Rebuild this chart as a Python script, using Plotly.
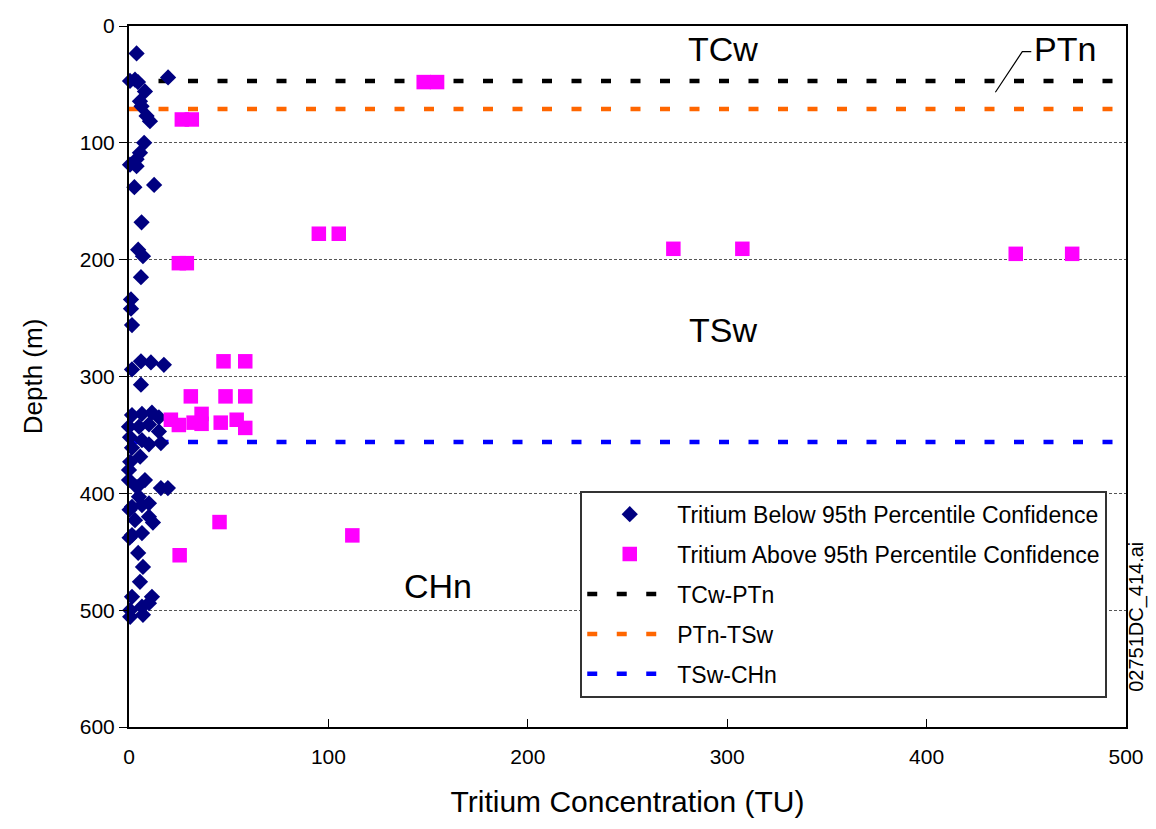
import plotly.graph_objects as go

# Tritium samples below the 95th percentile confidence level (TU, depth m)
below_tu = [3.8, 0.5, 3.0, 4.5, 19.6, 8.0, 5.5, 6.3, 8.8, 10.5,
            7.6, 5.5, 3.8, 0.5, 3.8, 2.7, 12.6, 6.3, 4.6, 7.0,
            6.0, 1.0, 1.0, 1.5, 6.0, 11.0, 17.5, 1.5, 6.0,
            1.5, 6.5, 11.5, 15.0, 0.0, 5.0, 10.0, 15.0, 0.5,
            6.5, 16.0, 1.5, 10.0, 0.6, 5.6, 0.0, 0.0, 8.0,
            16.0, 19.5, 4.0, 5.0, 1.5, 6.5, 10.0, 0.3, 3.0,
            10.0, 12.0, 1.5, 6.5, 0.3, 4.6, 7.0, 5.5, 1.5, 11.5,
            0.6, 6.5, 10.0, 0.6, 7.0]
below_depth = [23.5, 47, 46, 48, 44, 56, 64.5, 68.7, 77, 81.5,
               100, 108.5, 114, 118.7, 120, 138, 136, 168, 191.5, 197,
               215, 234, 242, 256, 287, 288, 290, 294, 307,
               333, 332, 331, 335, 343, 343, 341, 347, 352,
               354.5, 357, 361, 358, 373, 368.6, 380, 388.6, 388.6,
               395.5, 395.5, 394.6, 403, 411.5, 410, 408.5, 414, 423,
               420, 425, 435.7, 434, 438, 451, 463, 475.7, 488.6, 488.6,
               500, 497, 494, 505.7, 504]

# Tritium samples above the 95th percentile confidence level (TU, depth m)
above_tu = [26.5, 31.5, 147.8, 154.5, 95.2, 105.2, 273.0, 307.6, 444.7, 473.0,
            25.0, 29.0, 47.4, 58.3, 31.0, 48.4, 58.3,
            21.0, 25.0, 32.4, 36.4, 36.4, 46.0, 54.0, 58.3,
            45.4, 112.0, 25.4]
above_depth = [80, 80, 48, 48, 177.8, 177.8, 190.7, 190.7, 195, 195,
               203, 203, 287, 287, 317, 317, 317,
               337, 341.5, 339.5, 332, 340.5, 339.5, 337, 344,
               424.6, 436, 453]

# Unit contact depths (m)
contact_names = ["TCw-PTn", "PTn-TSw", "TSw-CHn"]
contact_depths = [47, 71, 356]
contact_colors = ["#000000", "#FF6600", "#0000FF"]
x_span = [0, 500]

# Hydrogeologic unit labels (TU, depth m)
unit_names = ["TCw", "TSw", "CHn", "PTn"]
unit_tu = [298, 298, 155, 469.6]
unit_depth = [20, 260, 479, 20]

FONT = "Liberation Sans, Arial, sans-serif"

fig = go.Figure()

# contact lines first so the sample markers sit on top of them
for i, (nm, d, c) in enumerate(zip(contact_names, contact_depths, contact_colors)):
    fig.add_trace(go.Scatter(
        x=x_span, y=[d, d], mode="lines", name=nm,
        legendgroup=f"c{i}", legendrank=3 + i,
        line=dict(color=c, width=4.5, dash="10px,19.5px"),
    ))

fig.add_trace(go.Scatter(
    x=below_tu, y=below_depth, mode="markers",
    name="Tritium Below 95th Percentile Confidence",
    legendgroup="g1", legendrank=1,
    marker=dict(symbol="diamond", size=12.5, color="#000080", line=dict(width=0)),
    cliponaxis=False,
))
fig.add_trace(go.Scatter(
    x=above_tu, y=above_depth, mode="markers",
    name="Tritium Above 95th Percentile Confidence",
    legendgroup="g2", legendrank=2,
    marker=dict(symbol="square", size=14.5, color="#FF00FF", line=dict(width=0)),
    cliponaxis=False,
))

for nm, x, y in zip(unit_names, unit_tu, unit_depth):
    fig.add_annotation(x=x, y=y, text=nm, showarrow=False,
                       font=dict(family=FONT, size=34, color="black"))

# leader from the PTn label down to its thin interval
fig.add_shape(type="path", path="M 452.5 22 L 448 22 L 434.5 56.7",
              line=dict(color="black", width=1.2), xref="x", yref="y")

fig.add_annotation(x=1.0109, y=0.157, xref="paper", yref="paper",
                   xanchor="center", yanchor="middle",
                   text="02751DC_414.ai", textangle=-90, showarrow=False,
                   font=dict(family=FONT, size=20, color="black"))

fig.update_layout(
    width=1156, height=829,
    margin=dict(l=129, r=24, t=26, b=102),
    paper_bgcolor="white", plot_bgcolor="white",
    font=dict(family=FONT, color="black"),
    legend=dict(
        x=0.4526, y=0.337, xanchor="left", yanchor="top",
        bgcolor="white", bordercolor="#333333", borderwidth=2,
        font=dict(family=FONT, size=23, color="black"),
        traceorder="grouped", tracegroupgap=7,
        itemwidth=85,
    ),
    showlegend=True,
)

fig.update_xaxes(
    range=[0, 500], tickvals=[0, 100, 200, 300, 400, 500],
    showgrid=False, zeroline=False,
    showline=True, linewidth=2, linecolor="black", mirror=True,
    ticks="inside", ticklen=8, tickwidth=1, tickcolor="black",
    ticklabelstandoff=10,
    tickfont=dict(family=FONT, size=21),
    title=dict(text="Tritium Concentration (TU)", standoff=24,
               font=dict(family=FONT, size=30)),
)
fig.update_yaxes(
    range=[600, 0], tickvals=[0, 100, 200, 300, 400, 500, 600],
    showgrid=True, gridcolor="#555555", gridwidth=1, griddash="3px,2px",
    zeroline=False,
    showline=True, linewidth=2, linecolor="black", mirror=True,
    ticks="outside", ticklen=8, tickwidth=1, tickcolor="black",
    tickfont=dict(family=FONT, size=21),
    title=dict(text="Depth (m)", standoff=30,
               font=dict(family=FONT, size=26)),
)

fig.write_html("out.html")
